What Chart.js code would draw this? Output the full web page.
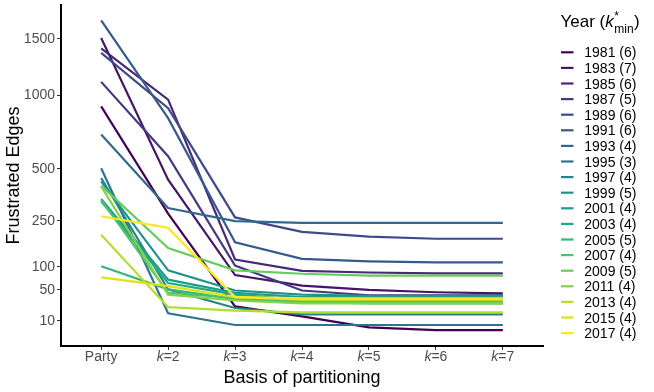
<!DOCTYPE html>
<html>
<head>
<meta charset="utf-8">
<script src="https://cdn.jsdelivr.net/npm/chart.js@4"></script>
<style>
  html, body { margin: 0; padding: 0; background: #fff; }
  canvas { display: block; }
</style>
</head>
<body>
<canvas id="myChart" width="654" height="392"></canvas>
<script>
// categories on the x axis
const categories = ['Party', 'k=2', 'k=3', 'k=4', 'k=5', 'k=6', 'k=7'];
const yTicks = [10, 50, 100, 250, 500, 1000, 1500];

const years = ['1981', '1983', '1985', '1987', '1989', '1991', '1993', '1995', '1997', '1999',
  '2001', '2003', '2005', '2007', '2009', '2011', '2013', '2015', '2017'];
const kmin = [6, 7, 6, 5, 6, 6, 4, 3, 4, 5, 4, 4, 5, 4, 5, 4, 4, 4, 4];

// frustrated edges per year (Party, k=2 ... k=7)
const e1981 = [914, 279, 25, 14, 5.5, 4, 4];
const e1983 = [1510, 440, 80, 58, 50, 46, 44];
const e1985 = [1410, 966, 119, 90, 86, 84, 84];
const e1987 = [1110, 573, 103, 49, 41, 41, 41];
const e1989 = [1367, 900, 263, 207, 190, 183, 183];
const e1991 = [1688, 826, 171, 121, 114, 111, 111];
const e1993 = [711, 303, 248, 241, 241, 241, 241];
const e1995 = [503, 17, 7, 7, 7, 7, 7];
const e1997 = [449, 51, 23, 16, 16, 16, 16];
const e1999 = [431, 91, 49, 42, 40, 40, 40];
const e2001 = [344, 70, 45, 38, 38, 38, 38];
const e2003 = [333, 63, 42, 34, 34, 34, 34];
const e2005 = [101, 51, 35, 31, 29, 29, 29];
const e2007 = [340, 45, 37, 32, 32, 32, 32];
const e2009 = [409, 153, 91, 83, 79, 79, 79];
const e2011 = [405, 42, 33, 29, 29, 29, 29];
const e2013 = [197, 24, 20, 18, 18, 18, 18];
const e2015 = [75, 57, 38, 34, 34, 34, 34];
const e2017 = [268, 222, 38, 36, 36, 36, 36];

const series = [e1981, e1983, e1985, e1987, e1989, e1991, e1993, e1995, e1997, e1999,
  e2001, e2003, e2005, e2007, e2009, e2011, e2013, e2015, e2017];

// viridis, 19 steps
const colors = ['#440154', '#471567', '#482878', '#453781', '#3e4a89', '#38598c', '#31688e',
  '#2b758e', '#26838e', '#21918c', '#1f9e89', '#24aa83', '#35b779', '#4cc26c', '#67cc5c',
  '#84d44b', '#b4de2c', '#dce318', '#fde725'];

const FONT = "'Liberation Sans', Arial, sans-serif";

// square-root y axis
class SqrtScale extends Chart.LinearScale {
  getPixelForValue(value) {
    const a = Math.sqrt(this.min), b = Math.sqrt(this.max);
    return this.getPixelForDecimal((Math.sqrt(Math.max(value, 0)) - a) / (b - a));
  }
  getValueForPixel(pixel) {
    const a = Math.sqrt(this.min), b = Math.sqrt(this.max);
    const s = a + this.getDecimalForPixel(pixel) * (b - a);
    return s * s;
  }
}
SqrtScale.id = 'sqrt';
SqrtScale.defaults = Chart.LinearScale.defaults;
Chart.register(SqrtScale);

const textPlugin = {
  id: 'texts',
  afterDraw(chart) {
    const ctx = chart.ctx;
    const xs = chart.scales.x;
    const area = chart.chartArea;
    ctx.save();

    // x tick labels with italic k
    ctx.fillStyle = '#4d4d4d';
    ctx.textBaseline = 'alphabetic';
    categories.forEach((c, i) => {
      const x = xs.getPixelForValue(i);
      if (c.startsWith('k')) {
        ctx.font = 'italic 14px ' + FONT;
        const w1 = ctx.measureText('k').width;
        ctx.font = '14px ' + FONT;
        const rest = c.slice(1);
        const w2 = ctx.measureText(rest).width;
        const x0 = x - (w1 + w2) / 2;
        ctx.textAlign = 'left';
        ctx.font = 'italic 14px ' + FONT;
        ctx.fillText('k', x0, 361);
        ctx.font = '14px ' + FONT;
        ctx.fillText(rest, x0 + w1, 361);
      } else {
        ctx.font = '14px ' + FONT;
        ctx.textAlign = 'center';
        ctx.fillText(c, x, 361);
      }
    });

    // axis titles
    ctx.fillStyle = '#000';
    ctx.font = '18px ' + FONT;
    ctx.textAlign = 'center';
    ctx.fillText('Basis of partitioning', (area.left + area.right) / 2, 383);
    ctx.save();
    ctx.translate(19, (area.top + area.bottom) / 2);
    ctx.rotate(-Math.PI / 2);
    ctx.fillText('Frustrated Edges', 0, 0);
    ctx.restore();

    // legend title: Year (k*_min)
    ctx.textAlign = 'left';
    let x = 560.5;
    ctx.font = '17px ' + FONT;
    ctx.fillText('Year (', x, 27);
    x += ctx.measureText('Year (').width;
    ctx.font = 'italic 17px ' + FONT;
    ctx.fillText('k', x, 27);
    x += ctx.measureText('k').width + 0.5;
    ctx.font = '12px ' + FONT;
    ctx.fillText('*', x, 20);
    ctx.fillText('min', x, 33);
    x += ctx.measureText('min').width + 0.5;
    ctx.font = '17px ' + FONT;
    ctx.fillText(')', x, 27);

    // legend entries
    chart.data.datasets.forEach((ds, i) => {
      const y = 52.3 + i * 15.6;
      ctx.strokeStyle = ds.borderColor;
      ctx.lineWidth = 2.2;
      ctx.beginPath();
      ctx.moveTo(561, y);
      ctx.lineTo(573.5, y);
      ctx.stroke();
      ctx.fillStyle = '#000';
      ctx.font = '14px ' + FONT;
      ctx.fillText(years[i] + ' (' + kmin[i] + ')', 584.3, y + 5);
    });
    ctx.restore();
  }
};

const datasets = years.map((yr, i) => ({
  label: yr + ' (' + kmin[i] + ')',
  data: series[i].map((v, j) => ({ x: j, y: v })),
  borderColor: colors[i],
  backgroundColor: colors[i],
  borderWidth: 2.2,
  pointRadius: 0,
  tension: 0,
  fill: false,
  order: years.length - i
}));

const ctx = document.getElementById('myChart');
new Chart(ctx, {
  type: 'line',
  data: { datasets: datasets },
  plugins: [textPlugin],
  options: {
    responsive: false,
    animation: false,
    layout: { padding: { left: 0, right: 111, top: 5, bottom: 0 } },
    plugins: {
      legend: { display: false },
      tooltip: { enabled: false }
    },
    scales: {
      x: {
        type: 'linear',
        min: -0.6,
        max: 6.6,
        afterBuildTicks: s => { s.ticks = categories.map((c, i) => ({ value: i })); },
        afterFit: s => { s.height = 46; s.paddingLeft = 0; s.paddingRight = 0; },
        ticks: { display: false },
        grid: { display: true, drawOnChartArea: false, drawTicks: true, tickLength: 4, color: '#333333' },
        border: { display: true, color: '#000', width: 2 }
      },
      y: {
        type: 'sqrt',
        min: 0,
        max: 1850,
        afterBuildTicks: s => { s.ticks = yTicks.map(v => ({ value: v })); },
        afterFit: s => { s.width = 61; s.paddingTop = 0; s.paddingBottom = 0; },
        ticks: {
          color: '#4d4d4d',
          font: { family: FONT, size: 14 },
          padding: 2,
          callback: v => String(v)
        },
        grid: { display: true, drawOnChartArea: false, drawTicks: true, tickLength: 4, color: '#333333' },
        border: { display: true, color: '#000', width: 2 }
      }
    }
  }
});
</script>
</body>
</html>
